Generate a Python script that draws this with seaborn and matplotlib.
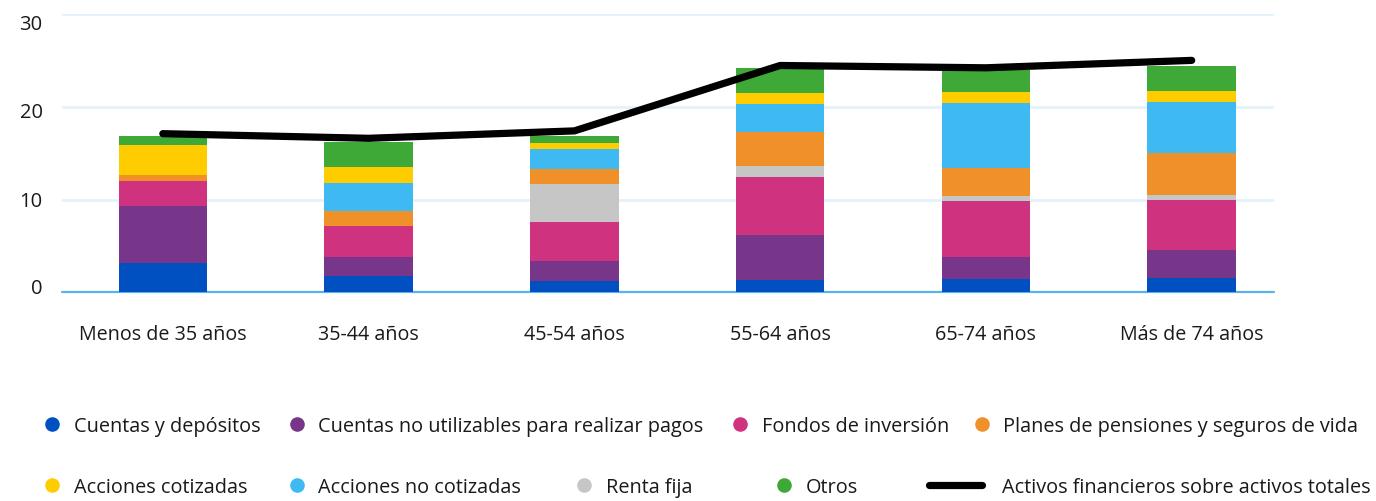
import numpy as np
import pandas as pd
import matplotlib
matplotlib.use("Agg")
import matplotlib.pyplot as plt
from matplotlib.lines import Line2D
from matplotlib.transforms import ScaledTranslation
import seaborn as sns

# Age groups
grupos = ["Menos de 35 años", "35-44 años", "45-54 años", "55-64 años",
          "65-74 años", "Más de 74 años"]

# Share of each asset type (stacked, bottom to top)
cuentas_depositos = [3.2, 1.75, 1.2, 1.35, 1.45, 1.55]
cuentas_no_pagos = [6.1, 2.1, 2.15, 4.85, 2.4, 3.0]
fondos_inversion = [2.7, 3.3, 4.2, 6.25, 5.95, 5.4]
renta_fija = [0.0, 0.0, 4.1, 1.2, 0.6, 0.55]
planes_pensiones = [0.65, 1.65, 1.6, 3.65, 3.0, 4.55]
acciones_no_cotizadas = [0.0, 3.0, 2.15, 3.0, 7.0, 5.45]
acciones_cotizadas = [3.25, 1.75, 0.65, 1.2, 1.2, 1.2]
otros = [0.9, 2.7, 0.75, 2.7, 2.4, 2.7]

# Financial assets over total assets
activos_financieros = [17.1, 16.6, 17.4, 24.45, 24.2, 25.0]

y_ticks = [0, 10, 20, 30]

series = [
    ("Cuentas y depósitos", cuentas_depositos, "#0050c2"),
    ("Cuentas no utilizables para realizar pagos", cuentas_no_pagos, "#78368b"),
    ("Fondos de inversión", fondos_inversion, "#cf3380"),
    ("Renta fija", renta_fija, "#c6c6c6"),
    ("Planes de pensiones y seguros de vida", planes_pensiones, "#f09029"),
    ("Acciones no cotizadas", acciones_no_cotizadas, "#3fb9f2"),
    ("Acciones cotizadas", acciones_cotizadas, "#ffcc00"),
    ("Otros", otros, "#3fa938"),
]
linea_label = "Activos financieros sobre activos totales"

sns.set_theme(style="white")
plt.rcParams["font.family"] = ["Open Sans", "DejaVu Sans"]
text_color = "#1a1a1a"

W, H = 1376, 502
fig = plt.figure(figsize=(W / 100, H / 100), dpi=100)
ax = fig.add_axes([62 / W, 1 - 293.3 / H, (1274 - 62) / W, (293.3 - 15) / H])

# Stacked bars: draw cumulative totals from the top layer down
vals = np.array([s[1] for s in series])
cum = np.cumsum(vals, axis=0)
for i in range(len(series) - 1, -1, -1):
    df = pd.DataFrame({"grupo": grupos, "valor": cum[i]})
    sns.barplot(data=df, x="grupo", y="valor", color=series[i][2],
                width=0.43, saturation=1, linewidth=0, ax=ax, zorder=2)

# Line on top
dl = pd.DataFrame({"pos": np.arange(len(grupos)), "valor": activos_financieros})
sns.lineplot(data=dl, x="pos", y="valor", color="black", linewidth=5.2,
             solid_capstyle="round", ax=ax, zorder=4)

ax.set_xlim(-0.49, 5.40)
ax.set_ylim(0, 30)
ax.set_yticks(y_ticks)
ax.set_yticklabels([str(t) for t in y_ticks])
ax.set_xticks(np.arange(len(grupos)))
ax.set_xticklabels(grupos)
ax.set_xlabel("")
ax.set_ylabel("")
for s in ax.spines.values():
    s.set_visible(False)
ax.grid(False)
for t in y_ticks[1:]:
    ax.axhline(t, color="#e3f2fb", linewidth=2, zorder=0)
ax.axhline(0, color="#5ab4e8", linewidth=1.6, zorder=1.5, clip_on=False)

ax.tick_params(axis="x", length=0, pad=23, labelsize=14.2, colors=text_color)
ax.tick_params(axis="y", length=0, pad=14, labelsize=14.5, colors=text_color)

# y labels sit on a slightly tighter spacing than the gridlines
for lab, dy in zip(ax.get_yticklabels(), [6.5, 1.3, -3, -8]):
    lab.set_transform(lab.get_transform() +
                      ScaledTranslation(0, dy / 100, fig.dpi_scale_trans))

# Legend entries laid out in two rows
fs = 14.3
em = fs * 100 / 72
legend_items = [
    (0, 44.5, 427), (1, 289.5, 427), (2, 732.5, 427), (4, 974.5, 427),
    (6, 44.5, 488), (5, 289.5, 488), (3, 576.5, 488), (7, 776.5, 488),
]
for idx, xpx, ypx in legend_items:
    name, _, col = series[idx]
    h = Line2D([], [], linestyle="none", marker="o", markersize=10.5,
               markerfacecolor=col, markeredgewidth=0)
    fig.legend([h], [name], loc="center left",
               bbox_to_anchor=(xpx / W, 1 - ypx / H), frameon=False,
               fontsize=fs, handlelength=15 / em, handletextpad=14 / em,
               borderpad=0, borderaxespad=0, labelcolor=text_color)
h = Line2D([], [], color="black", linewidth=5.2, solid_capstyle="round")
fig.legend([h], [linea_label], loc="center left",
           bbox_to_anchor=(928.5 / W, 1 - 488 / H), frameon=False,
           fontsize=fs, handlelength=53 / em, handletextpad=20.5 / em,
           borderpad=0, borderaxespad=0, labelcolor=text_color)

fig.savefig("out.png", dpi=100, facecolor="white")
